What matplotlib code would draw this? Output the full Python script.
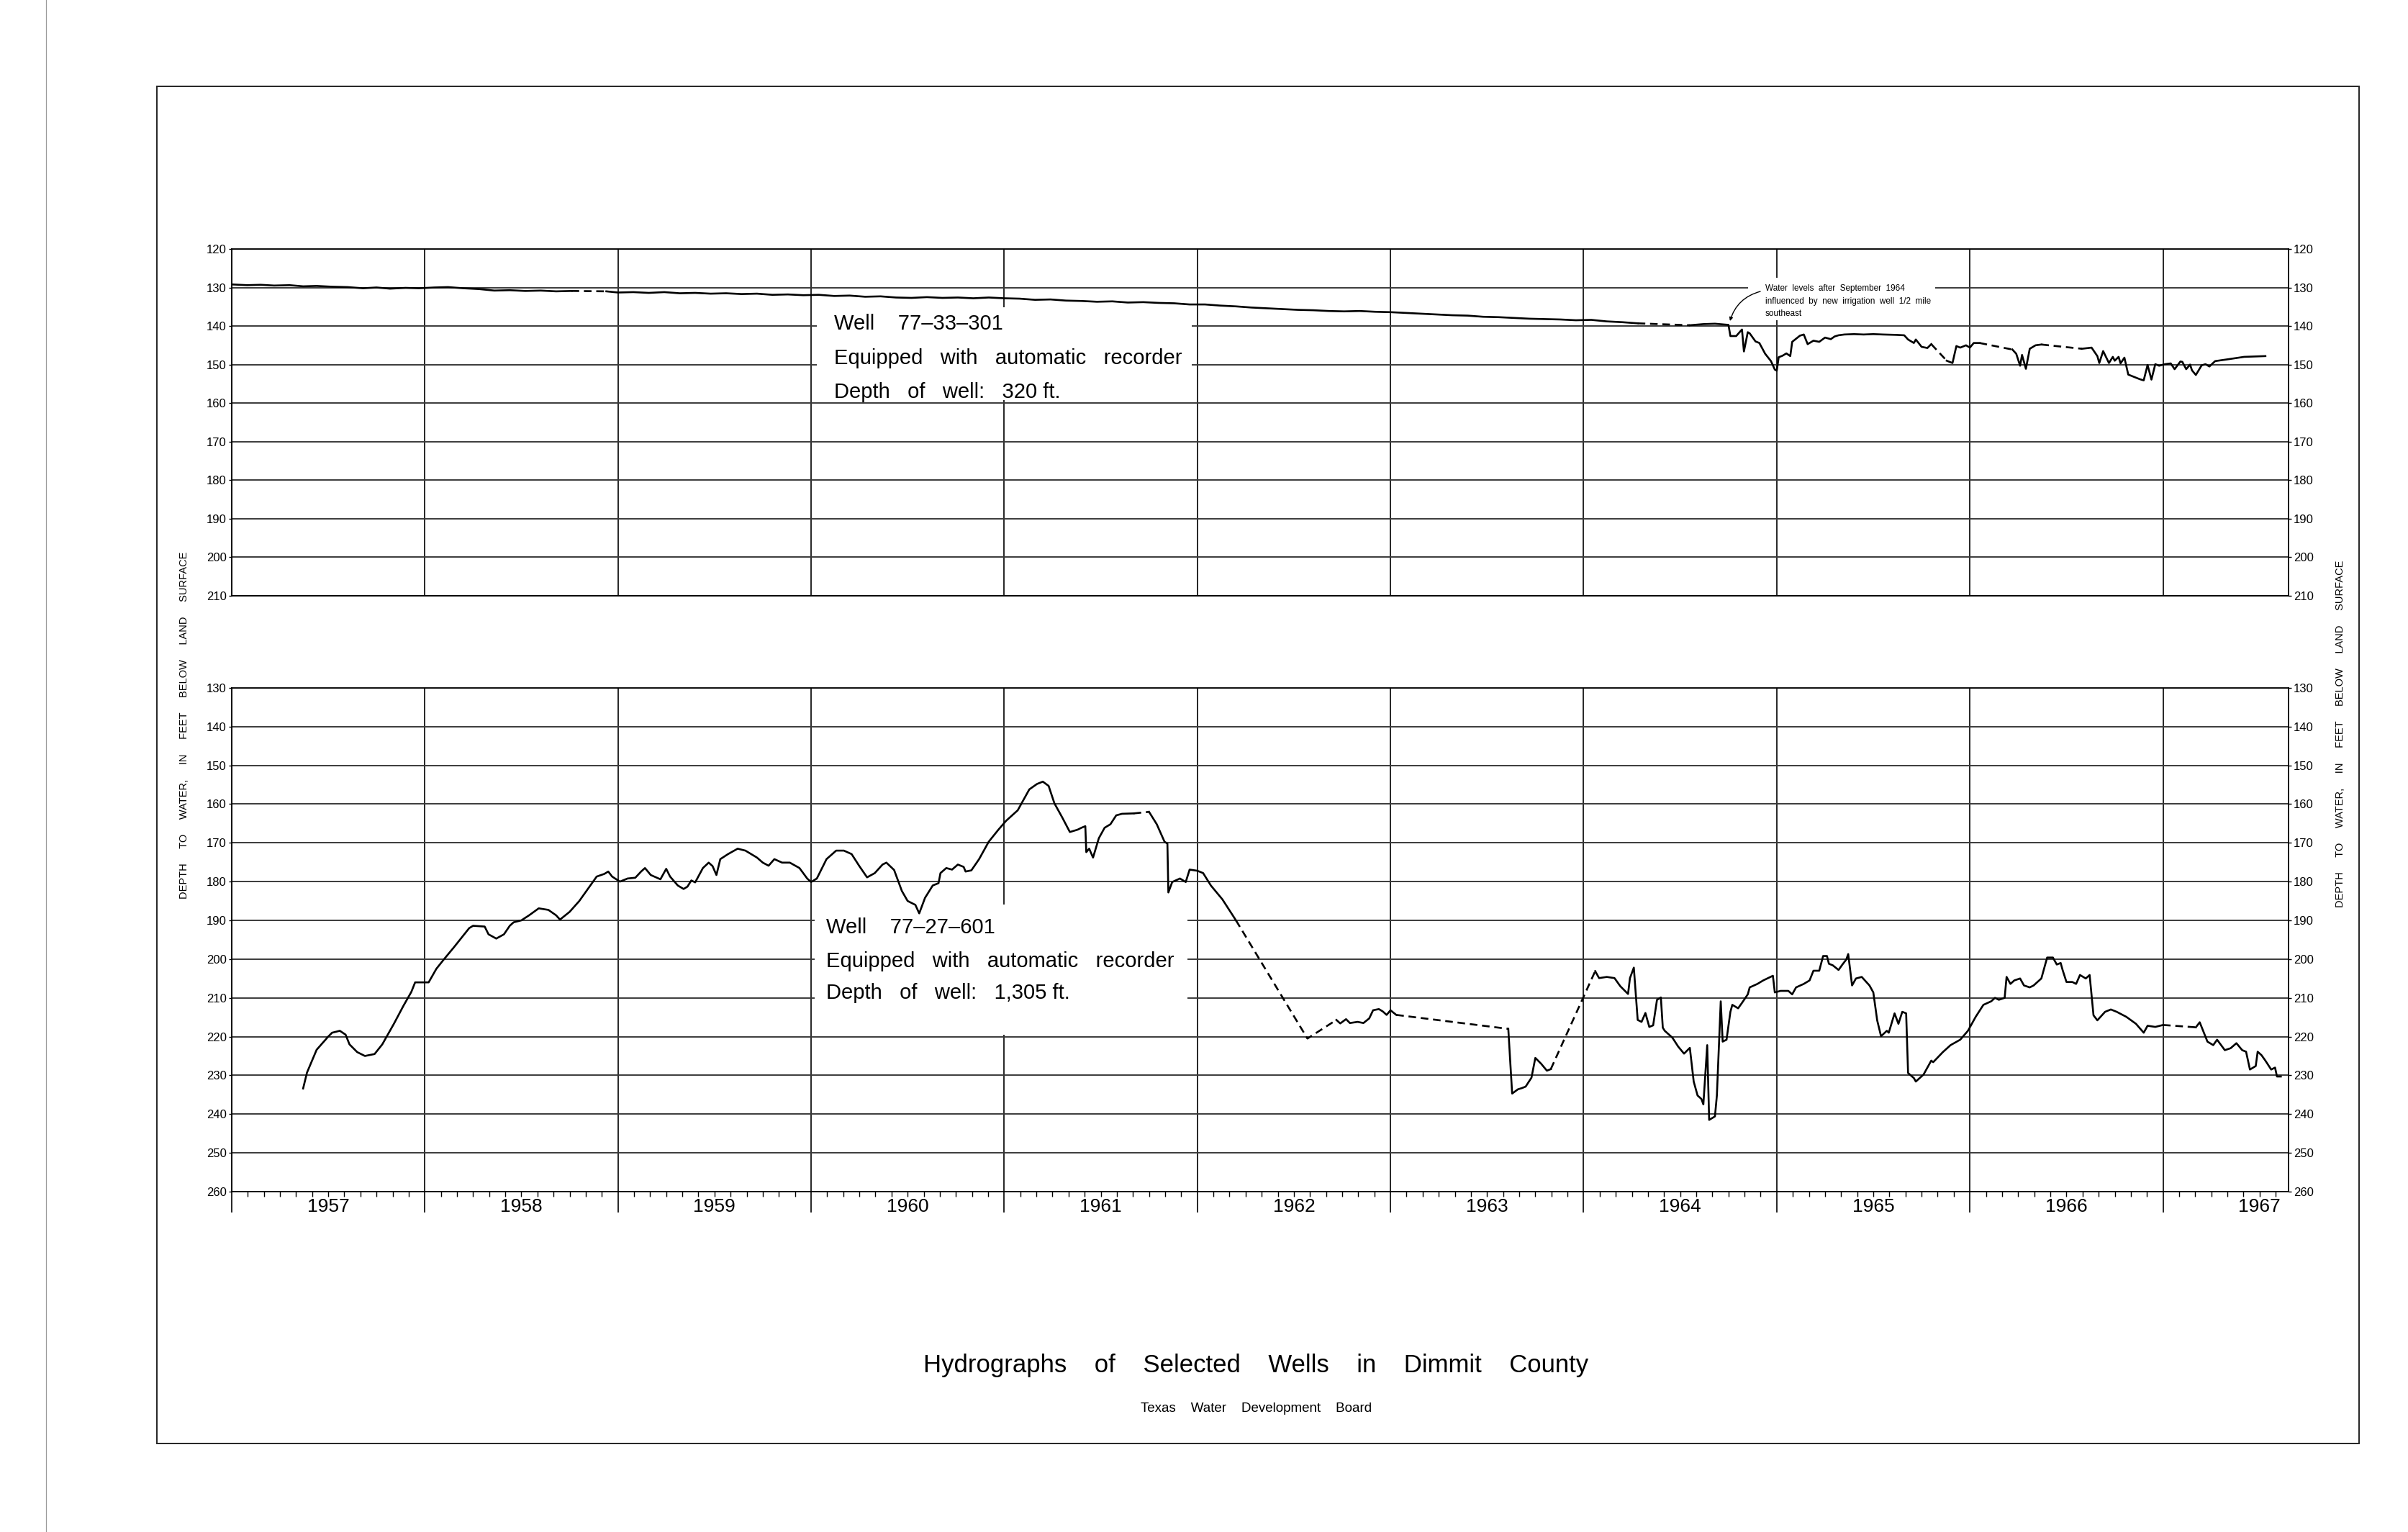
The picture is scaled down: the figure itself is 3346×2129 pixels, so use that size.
import matplotlib
matplotlib.use("Agg")
import matplotlib.pyplot as plt
from matplotlib.patches import Rectangle
from matplotlib.lines import Line2D
from matplotlib.ticker import MultipleLocator, FixedLocator
from matplotlib import font_manager

# well 77-33-301 (upper hydrograph), decimal years / depth to water in feet
w301_year = [1957.00, 1957.08, 1957.15, 1957.22, 1957.30, 1957.37, 1957.44, 1957.52, 1957.60, 1957.68,
             1957.75, 1957.82, 1957.90, 1957.97, 1958.05, 1958.12, 1958.20, 1958.28, 1958.36, 1958.44,
             1958.52, 1958.60, 1958.68, 1958.76, 1958.94, 1959.00, 1959.08, 1959.16, 1959.24, 1959.32,
             1959.40, 1959.48, 1959.56, 1959.64, 1959.72, 1959.80, 1959.88, 1959.96, 1960.04, 1960.12,
             1960.20, 1960.28, 1960.36, 1960.44, 1960.52, 1960.60, 1960.68, 1960.76, 1960.84, 1960.92,
             1961.00, 1961.08, 1961.16, 1961.24, 1961.32, 1961.40, 1961.48, 1961.56, 1961.64, 1961.72,
             1961.80, 1961.88, 1961.96, 1962.04, 1962.12, 1962.20, 1962.28, 1962.36, 1962.44, 1962.52,
             1962.60, 1962.68, 1962.76, 1962.84, 1962.92, 1963.00, 1963.08, 1963.16, 1963.24, 1963.32,
             1963.40, 1963.48, 1963.56, 1963.64, 1963.72, 1963.80, 1963.88, 1963.96, 1964.04, 1964.12,
             1964.20, 1964.28, 1964.55, 1964.62, 1964.68, 1964.75, 1964.76, 1964.79, 1964.82, 1964.83,
             1964.85, 1964.86, 1964.89, 1964.91, 1964.94, 1964.97, 1964.99, 1965.00, 1965.01, 1965.03,
             1965.05, 1965.07, 1965.08, 1965.12, 1965.14, 1965.16, 1965.19, 1965.22, 1965.25, 1965.28,
             1965.30, 1965.32, 1965.35, 1965.40, 1965.45, 1965.50, 1965.55, 1965.62, 1965.66, 1965.68,
             1965.71, 1965.72, 1965.75, 1965.78, 1965.80, 1965.88, 1965.91, 1965.93, 1965.95, 1965.98,
             1966.00, 1966.02, 1966.05, 1966.22, 1966.24, 1966.26, 1966.27, 1966.29, 1966.31, 1966.34,
             1966.37, 1966.58, 1966.63, 1966.66, 1966.67, 1966.69, 1966.72, 1966.74, 1966.75, 1966.77,
             1966.78, 1966.80, 1966.82, 1966.85, 1966.88, 1966.90, 1966.92, 1966.94, 1966.96, 1966.98,
             1967.01, 1967.04, 1967.06, 1967.09, 1967.10, 1967.12, 1967.14, 1967.15, 1967.17, 1967.20,
             1967.22, 1967.24, 1967.27, 1967.34, 1967.42, 1967.53]
w301_depth = [129.2, 129.4, 129.3, 129.5, 129.4, 129.7, 129.6, 129.8, 129.9, 130.2,
              130.0, 130.3, 130.1, 130.2, 130.0, 129.9, 130.2, 130.4, 130.8, 130.7,
              130.9, 130.8, 131.0, 130.9, 131.0, 131.3, 131.2, 131.4, 131.2, 131.5,
              131.4, 131.6, 131.5, 131.7, 131.6, 131.9, 131.8, 132.0, 131.9, 132.2,
              132.1, 132.4, 132.3, 132.6, 132.7, 132.5, 132.7, 132.6, 132.8, 132.6,
              132.8, 132.9, 133.2, 133.1, 133.4, 133.5, 133.7, 133.6, 133.9, 133.8,
              134.0, 134.1, 134.4, 134.4, 134.7, 134.9, 135.2, 135.4, 135.6, 135.8,
              135.9, 136.1, 136.2, 136.1, 136.3, 136.4, 136.6, 136.8, 137.0, 137.2,
              137.3, 137.6, 137.7, 137.9, 138.1, 138.2, 138.3, 138.5, 138.4, 138.8,
              139.0, 139.3, 139.8, 139.5, 139.4, 139.7, 142.6, 142.6, 140.9, 146.6,
              141.6, 141.9, 144.0, 144.4, 147.2, 149.1, 151.3, 151.6, 148.1, 147.7,
              147.1, 147.8, 144.1, 142.5, 142.2, 144.7, 143.8, 144.1, 143.0, 143.4,
              142.7, 142.4, 142.2, 142.1, 142.2, 142.1, 142.2, 142.3, 142.4, 143.5,
              144.4, 143.5, 145.4, 145.7, 144.7, 149.0, 149.6, 145.2, 145.6, 145.0,
              145.6, 144.4, 144.4, 146.1, 147.2, 150.3, 147.5, 151.1, 145.9, 145.0,
              144.8, 145.9, 145.6, 147.8, 149.6, 146.5, 149.6, 148.0, 149.0, 148.0,
              149.7, 148.2, 152.6, 153.2, 153.8, 154.1, 150.1, 153.9, 149.9, 150.3,
              149.9, 149.7, 151.2, 149.2, 149.3, 151.2, 150.0, 151.5, 152.7, 150.2,
              149.9, 150.5, 149.1, 148.6, 148.0, 147.8]
# periods with no record (drawn dashed)
w301_gaps = [(1958.76, 1958.94), (1964.28, 1964.55), (1965.80, 1965.88),
             (1966.05, 1966.22), (1966.37, 1966.58)]

# well 77-27-601 (lower hydrograph)
w601_year = [1957.37, 1957.39, 1957.44, 1957.50, 1957.52, 1957.56, 1957.59, 1957.61, 1957.65, 1957.69,
             1957.74, 1957.78, 1957.84, 1957.89, 1957.93, 1957.95, 1958.02, 1958.06, 1958.10, 1958.15,
             1958.19, 1958.23, 1958.25, 1958.31, 1958.33, 1958.37, 1958.41, 1958.44, 1958.46, 1958.50,
             1958.54, 1958.59, 1958.64, 1958.68, 1958.70, 1958.75, 1958.80, 1958.85, 1958.89, 1958.93,
             1958.95, 1958.97, 1959.01, 1959.05, 1959.09, 1959.12, 1959.14, 1959.17, 1959.22, 1959.25,
             1959.27, 1959.31, 1959.34, 1959.36, 1959.38, 1959.40, 1959.44, 1959.47, 1959.49, 1959.51,
             1959.53, 1959.57, 1959.62, 1959.66, 1959.72, 1959.75, 1959.78, 1959.81, 1959.85, 1959.89,
             1959.94, 1959.98, 1960.00, 1960.03, 1960.08, 1960.13, 1960.17, 1960.21, 1960.25, 1960.29,
             1960.33, 1960.37, 1960.39, 1960.43, 1960.47, 1960.50, 1960.54, 1960.56, 1960.59, 1960.63,
             1960.66, 1960.67, 1960.70, 1960.73, 1960.76, 1960.79, 1960.80, 1960.83, 1960.87, 1960.92,
             1960.97, 1961.01, 1961.07, 1961.10, 1961.13, 1961.17, 1961.20, 1961.23, 1961.26, 1961.30,
             1961.34, 1961.38, 1961.40, 1961.42, 1961.425, 1961.44, 1961.46, 1961.49, 1961.52, 1961.55,
             1961.58, 1961.61, 1961.67, 1961.75, 1961.79, 1961.83, 1961.845, 1961.85, 1961.87, 1961.91,
             1961.94, 1961.96, 1962.00, 1962.03, 1962.07, 1962.13, 1962.20, 1962.57, 1962.72, 1962.74,
             1962.77, 1962.79, 1962.83, 1962.86, 1962.89, 1962.91, 1962.94, 1962.96, 1962.98, 1963.00,
             1963.03, 1963.61, 1963.63, 1963.66, 1963.68, 1963.70, 1963.73, 1963.75, 1963.78, 1963.81,
             1963.83, 1964.06, 1964.08, 1964.12, 1964.16, 1964.19, 1964.23, 1964.24, 1964.26, 1964.28,
             1964.30, 1964.32, 1964.34, 1964.36, 1964.38, 1964.40, 1964.41, 1964.42, 1964.46, 1964.49,
             1964.52, 1964.55, 1964.57, 1964.59, 1964.61, 1964.62, 1964.64, 1964.65, 1964.68, 1964.69,
             1964.71, 1964.72, 1964.74, 1964.76, 1964.77, 1964.80, 1964.82, 1964.85, 1964.86, 1964.90,
             1964.93, 1964.98, 1964.99, 1965.02, 1965.06, 1965.08, 1965.10, 1965.14, 1965.17, 1965.19,
             1965.22, 1965.24, 1965.26, 1965.27, 1965.29, 1965.32, 1965.34, 1965.36, 1965.37, 1965.39,
             1965.41, 1965.44, 1965.48, 1965.50, 1965.52, 1965.54, 1965.57, 1965.58, 1965.61, 1965.63,
             1965.65, 1965.67, 1965.68, 1965.71, 1965.72, 1965.76, 1965.80, 1965.81, 1965.86, 1965.90,
             1965.95, 1965.99, 1966.03, 1966.07, 1966.11, 1966.13, 1966.15, 1966.18, 1966.19, 1966.21,
             1966.23, 1966.26, 1966.28, 1966.31, 1966.33, 1966.37, 1966.40, 1966.43, 1966.45, 1966.47,
             1966.48, 1966.50, 1966.53, 1966.55, 1966.57, 1966.60, 1966.62, 1966.64, 1966.66, 1966.70,
             1966.73, 1966.76, 1966.81, 1966.86, 1966.90, 1966.92, 1966.96, 1967.00, 1967.17, 1967.19,
             1967.23, 1967.26, 1967.28, 1967.32, 1967.35, 1967.38, 1967.41, 1967.43, 1967.45, 1967.48,
             1967.49, 1967.51, 1967.53, 1967.56, 1967.58, 1967.59, 1967.61]
w601_depth = [233.4, 229.3, 223.4, 220.0, 219.0, 218.5, 219.5, 222.0, 224.0, 225.0,
              224.5, 222.0, 216.7, 212.0, 208.5, 206.0, 206.0, 202.5, 200.0, 197.0,
              194.5, 192.0, 191.4, 191.6, 193.6, 194.7, 193.6, 191.4, 190.5, 190.0,
              188.7, 186.9, 187.3, 188.7, 189.8, 187.8, 185.0, 181.5, 178.7, 178.0,
              177.4, 178.7, 180.0, 179.2, 179.0, 177.4, 176.5, 178.3, 179.4, 176.7,
              178.7, 181.0, 181.9, 181.3, 179.7, 180.2, 176.5, 175.1, 176.0, 178.3,
              174.2, 172.9, 171.5, 172.0, 173.8, 175.1, 175.9, 174.2, 175.1, 175.1,
              176.5, 179.2, 180.1, 179.2, 174.2, 172.0, 172.0, 172.9, 176.0, 178.9,
              177.8, 175.6, 175.1, 177.0, 182.4, 185.0, 186.0, 188.2, 184.2, 181.0,
              180.4, 177.8, 176.5, 176.9, 175.6, 176.2, 177.4, 177.1, 174.2, 169.7,
              166.6, 164.3, 161.6, 158.9, 156.2, 154.8, 154.2, 155.3, 159.8, 163.4,
              167.2, 166.6, 166.1, 165.7, 172.4, 171.5, 173.8, 168.8, 166.1, 165.2,
              162.9, 162.5, 162.4, 162.0, 165.2, 169.7, 170.2, 182.8, 180.1, 179.2,
              180.1, 176.9, 177.2, 177.8, 181.0, 184.6, 190.0, 220.5, 215.7, 216.6,
              215.5, 216.5, 216.2, 216.5, 215.3, 213.2, 212.9, 213.5, 214.4, 213.2,
              214.4, 218.0, 234.7, 233.6, 233.3, 232.9, 230.6, 225.5, 227.0, 228.8,
              228.4, 203.1, 204.9, 204.6, 204.9, 207.0, 209.0, 204.9, 202.2, 215.7,
              216.2, 213.9, 217.5, 217.1, 210.5, 209.9, 217.7, 218.5, 220.3, 222.6,
              224.4, 222.9, 231.6, 235.2, 236.1, 237.5, 222.2, 241.5, 240.6, 235.2,
              210.9, 221.3, 220.8, 213.6, 211.8, 212.7, 211.3, 209.1, 207.3, 206.4,
              205.5, 204.3, 208.6, 208.2, 208.2, 209.1, 207.3, 206.4, 205.5, 203.0,
              203.0, 199.2, 199.2, 201.2, 201.6, 202.8, 201.4, 200.1, 198.7, 206.8,
              205.0, 204.6, 206.8, 208.6, 215.8, 219.9, 218.5, 219.0, 214.0, 216.7,
              213.6, 214.0, 229.4, 230.7, 231.6, 229.8, 226.2, 226.6, 224.0, 222.2,
              220.8, 218.5, 214.9, 211.8, 210.9, 210.0, 210.5, 210.0, 204.6, 206.4,
              205.5, 205.0, 206.8, 207.3, 206.8, 205.0, 199.6, 199.6, 201.4, 201.0,
              202.8, 205.9, 205.9, 206.4, 204.1, 205.0, 204.1, 214.5, 215.8, 213.6,
              213.0, 213.6, 214.9, 216.7, 219.0, 217.2, 217.5, 217.0, 217.6, 216.3,
              221.3, 222.2, 220.8, 223.5, 223.0, 221.7, 223.5, 223.9, 228.5, 227.6,
              223.9, 224.8, 226.2, 228.5, 228.0, 230.3, 230.3]
w601_gaps = [(1961.67, 1961.75), (1962.20, 1962.72), (1963.03, 1963.61),
             (1963.83, 1964.06), (1967.00, 1967.17)]

years = [1957, 1958, 1959, 1960, 1961, 1962, 1963, 1964, 1965, 1966, 1967]

top_info = ["Well    77\u201333\u2013301", "Equipped   with   automatic   recorder", "Depth   of   well:   320 ft."]
bottom_info = ["Well    77\u201327\u2013601", "Equipped   with   automatic   recorder", "Depth   of   well:   1,305 ft."]
note_text = "Water  levels  after  September  1964\ninfluenced  by  new  irrigation  well  1/2  mile\nsoutheast"
ylabel = "DEPTH     TO     WATER,     IN     FEET     BELOW     LAND     SURFACE"
title = "Hydrographs    of    Selected    Wells    in    Dimmit    County"
subtitle = "Texas    Water    Development    Board"

avail = {f.name for f in font_manager.fontManager.ttflist}
main_font = "Liberation Sans" if "Liberation Sans" in avail else "DejaVu Sans"
narrow_font = "Liberation Sans Narrow" if "Liberation Sans Narrow" in avail else main_font
plt.rcParams["font.family"] = [main_font, "DejaVu Sans"]


def draw_trace(ax, xs, ys, gaps):
    # split the record into solid pieces and dashed pieces (missing record)
    def in_gap(a, b):
        m = (a + b) / 2
        return any(g0 <= m <= g1 for g0, g1 in gaps)
    start = 0
    for i in range(1, len(xs)):
        cur = in_gap(xs[i - 1], xs[i])
        nxt = in_gap(xs[i], xs[i + 1]) if i + 1 < len(xs) else None
        if nxt != cur:
            ls = (0, (4, 2.5)) if cur else "-"
            ax.plot(xs[start:i + 1], ys[start:i + 1], color="black", lw=1.9,
                    ls=ls, zorder=3, solid_joinstyle="round")
            start = i


def style_axis(ax, ymin, ymax):
    ax.set_xlim(1957.0, 1967.65)
    ax.set_ylim(ymax, ymin)
    ax.yaxis.set_major_locator(MultipleLocator(10))
    ax.xaxis.set_major_locator(FixedLocator(years))
    ax.set_axisbelow(True)
    ax.grid(axis="y", color="#3a3a3a", lw=1.4)
    ax.grid(axis="x", color="black", lw=1.2)
    ax.tick_params(axis="y", left=True, right=True, labelleft=True, labelright=True,
                   length=3, width=1, pad=2, labelsize=12)
    for sp in ax.spines.values():
        sp.set_linewidth(1.3)


fig = plt.figure(figsize=(33.46, 21.29), dpi=100)
fig.patch.set_facecolor("white")

ax1 = fig.add_axes([0.0962, 0.6111, 0.8542, 0.2264])
ax2 = fig.add_axes([0.0962, 0.2222, 0.8542, 0.3288])

style_axis(ax1, 120, 210)
ax1.tick_params(axis="x", bottom=False, labelbottom=False)

style_axis(ax2, 130, 260)
ax2.xaxis.set_minor_locator(MultipleLocator(1 / 12))
ax2.tick_params(axis="x", which="major", length=21, width=1.2, labelbottom=False)
ax2.tick_params(axis="x", which="minor", length=5, width=1)
for y in years:
    ax2.text(y + 0.5, -0.030, str(y), transform=ax2.get_xaxis_transform(),
             ha="center", va="center", fontsize=19, family=narrow_font)

# upper well
draw_trace(ax1, w301_year, w301_depth, w301_gaps)
ax1.add_patch(Rectangle((1960.03, 135.2), 1.94, 24.1, facecolor="white", edgecolor="none", zorder=1))
for txt, d in zip(top_info, [139.4, 148.4, 157.1]):
    ax1.text(1960.12, d, txt, ha="left", va="center", fontsize=21, zorder=4)

ax1.add_patch(Rectangle((1964.85, 127.5), 0.97, 11.0, facecolor="white", edgecolor="none", zorder=1))
ax1.text(1964.94, 133.6, note_text, ha="left", va="center", fontsize=8.5,
         linespacing=1.6, zorder=4)
ax1.annotate("", xy=(1964.755, 139.2), xytext=(1964.925, 130.9),
             arrowprops=dict(arrowstyle="-|>", connectionstyle="arc3,rad=0.3",
                             color="black", lw=1, mutation_scale=7), zorder=4)

# lower well
draw_trace(ax2, w601_year, w601_depth, w601_gaps)
ax2.add_patch(Rectangle((1960.02, 186.0), 1.93, 33.5, facecolor="white", edgecolor="none", zorder=1))
for txt, d in zip(bottom_info, [191.9, 200.5, 208.8]):
    ax2.text(1960.08, d, txt, ha="left", va="center", fontsize=21, zorder=4)

fig.text(256 / 3346, 1 - 1008 / 2129, ylabel, rotation=90, ha="center", va="center", fontsize=10.5)
fig.text(3252 / 3346, 1 - 1020 / 2129, ylabel, rotation=90, ha="center", va="center", fontsize=10.5)

fig.text(1745 / 3346, 1 - 1898 / 2129, title, ha="center", va="center", fontsize=25)
fig.text(1746 / 3346, 1 - 1958 / 2129, subtitle, ha="center", va="center", fontsize=13.5)

# sheet border
fig.add_artist(Rectangle((218 / 3346, 1 - 2006 / 2129), (3278 - 218) / 3346, (2006 - 120) / 2129,
                         transform=fig.transFigure, fill=False, edgecolor="#222222", lw=1.4))
fig.add_artist(Line2D([64 / 3346, 64 / 3346], [0, 1], transform=fig.transFigure,
                      color="#9a9a9a", lw=0.9))

fig.savefig("out.png", dpi=100, facecolor="white")
